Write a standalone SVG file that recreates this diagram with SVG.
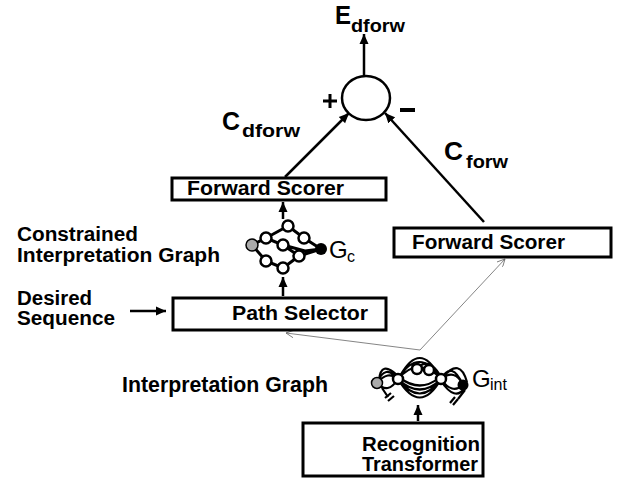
<svg xmlns="http://www.w3.org/2000/svg" width="621" height="481" viewBox="0 0 621 481">
<defs>
<style>
.box{fill:#fff;stroke:#000;stroke-width:3}
.t{font-family:"Liberation Sans",Arial,sans-serif;font-weight:bold;fill:#000}
.g{font-family:"Liberation Sans",Arial,sans-serif;fill:#000}
.c{stroke:#000;stroke-width:2.5;fill:none}
.thin{stroke:#666;stroke-width:0.8;fill:none}
.e{stroke:#000;stroke-width:3;fill:none}
.n{fill:#fff;stroke:#000;stroke-width:2.5}
.gray{fill:#aaa;stroke:#000;stroke-width:1.5}
.blk{fill:#000}
</style>
<marker id="ah" markerUnits="userSpaceOnUse" markerWidth="12" markerHeight="10" refX="10" refY="5" orient="auto">
<path d="M0,0.5 L10,5 L0,9.5 Z" fill="#000"/>
</marker>
<marker id="oh" markerUnits="userSpaceOnUse" markerWidth="10" markerHeight="8" refX="8" refY="4" orient="auto">
<path d="M0,0 L8,4 L0,8" fill="none" stroke="#666" stroke-width="0.8"/>
</marker>
</defs>

<g id="connectors">
<line class="c" x1="364" y1="75" x2="364" y2="34" marker-end="url(#ah)"/>
<line class="c" x1="285" y1="177" x2="349" y2="113" marker-end="url(#ah)"/>
<line class="c" x1="484" y1="222" x2="385" y2="113" marker-end="url(#ah)"/>
<line class="c" x1="283" y1="219" x2="283" y2="202" marker-end="url(#ah)"/>
<line class="c" x1="283" y1="296" x2="283" y2="277" marker-end="url(#ah)"/>
<line class="c" x1="130" y1="311" x2="166" y2="311" marker-end="url(#ah)"/>
<line class="c" x1="418" y1="421" x2="418" y2="405" marker-end="url(#ah)"/>
<line class="thin" x1="420" y1="350" x2="286" y2="333" marker-end="url(#oh)"/>
<line class="thin" x1="420" y1="350" x2="505" y2="259" marker-end="url(#oh)"/>
</g>

<g id="sum">
<ellipse cx="366" cy="98" rx="24" ry="22" fill="#fff" stroke="#000" stroke-width="2.5"/>
<path d="M323,101 H337 M330,94 V108" stroke="#000" stroke-width="3"/>
<rect x="400" y="108" width="15" height="4" fill="#000"/>
</g>

<g id="label-edforw">
<text class="t" x="335" y="24" font-size="26" textLength="16" lengthAdjust="spacingAndGlyphs">E</text>
<text class="t" x="351" y="32" font-size="18" textLength="54" lengthAdjust="spacingAndGlyphs">dforw</text>
</g>
<g id="label-cdforw">
<text class="t" x="222" y="130" font-size="25" textLength="18" lengthAdjust="spacingAndGlyphs">C</text>
<text class="t" x="242" y="137" font-size="18" textLength="58" lengthAdjust="spacingAndGlyphs">dforw</text>
</g>
<g id="label-cforw">
<text class="t" x="444" y="160" font-size="25" textLength="19" lengthAdjust="spacingAndGlyphs">C</text>
<text class="t" x="466" y="168" font-size="18" textLength="42" lengthAdjust="spacingAndGlyphs">forw</text>
</g>

<g id="forward-scorer-left">
<rect class="box" x="172" y="178" width="214" height="22"/>
<text class="t" x="187" y="195" font-size="20" textLength="157" lengthAdjust="spacingAndGlyphs">Forward  Scorer</text>
</g>

<g id="forward-scorer-right">
<rect class="box" x="394" y="228" width="217" height="29"/>
<text class="t" x="412" y="249" font-size="21" textLength="153" lengthAdjust="spacingAndGlyphs">Forward Scorer</text>
</g>

<g id="path-selector">
<rect class="box" x="173" y="298" width="213" height="32"/>
<text class="t" x="232" y="320" font-size="21" textLength="136" lengthAdjust="spacingAndGlyphs">Path Selector</text>
</g>

<g id="recognition-transformer">
<rect class="box" x="303" y="423" width="180" height="53"/>
<text class="t" x="362" y="451" font-size="20" textLength="118" lengthAdjust="spacingAndGlyphs">Recognition</text>
<text class="t" x="362" y="471" font-size="20" textLength="116" lengthAdjust="spacingAndGlyphs">Transformer</text>
</g>

<g id="label-constrained">
<text class="t" x="17" y="241" font-size="20" textLength="121" lengthAdjust="spacingAndGlyphs">Constrained</text>
<text class="t" x="17" y="262" font-size="20" textLength="203" lengthAdjust="spacingAndGlyphs">Interpretation Graph</text>
</g>
<g id="label-desired">
<text class="t" x="17" y="305" font-size="20" textLength="75" lengthAdjust="spacingAndGlyphs">Desired</text>
<text class="t" x="17" y="325" font-size="20" textLength="98" lengthAdjust="spacingAndGlyphs">Sequence</text>
</g>
<g id="label-interp">
<text class="t" x="122" y="392" font-size="22" textLength="206" lengthAdjust="spacingAndGlyphs">Interpretation Graph</text>
</g>

<g id="graph-gc">
<path class="e" d="M252,245 L266,238 L288,226 L304,238 L321,249 M266,238 L283,245 L299,256 L321,249 M252,245 L266,261 L283,268 L299,256 M283,245 L305,251 L321,249"/>
<circle class="gray" cx="252" cy="245" r="6"/>
<circle class="n" cx="266" cy="238" r="5.5"/>
<circle class="n" cx="288" cy="226" r="5.5"/>
<circle class="n" cx="304" cy="238" r="5.5"/>
<circle class="n" cx="283" cy="245" r="5.5"/>
<circle class="n" cx="299" cy="256" r="5.5"/>
<circle class="n" cx="283" cy="268" r="5.5"/>
<circle class="n" cx="266" cy="261" r="5.5"/>
<circle class="blk" cx="321" cy="249" r="6"/>
<text class="g" x="329" y="258" font-size="24">G</text>
<text class="g" x="347" y="262" font-size="16">c</text>
</g>

<g id="graph-gint">
<g stroke="#000" stroke-width="2.2" fill="none">
<path d="M377,383 Q385,363 398,379 M377,383 Q388,370 398,379 M377,383 Q388,395 398,379 M379,380 Q381,360 397,375"/>
<path d="M398,379 Q419,345 441,379 M398,379 Q419,355 441,379 M400,376 Q420,340 439,376 M402,374 Q410,358 417,369 M417,369 Q428,356 440,375"/>
<path d="M398,379 Q420,416 441,379 M398,379 Q420,408 441,379 M398,379 Q420,400 441,379 M400,378 Q420,393 439,378"/>
<path d="M441,379 Q452,360 463,385 M441,379 Q455,368 463,385 M441,379 Q452,395 463,385 M443,377 Q460,357 467,382 M441,381 Q455,402 465,388"/>
<path d="M382,388 L388,397 M465,390 L458,399"/>
<path d="M385,398 L391,393 M388,401 L394,396 M450,403 L455,397 M453,405 L458,399" stroke-width="2.2"/>
</g>
<circle class="gray" cx="377" cy="383" r="5.5"/>
<circle class="n" cx="398" cy="379" r="5"/>
<circle class="n" cx="417" cy="369" r="5"/>
<circle class="n" cx="429" cy="370" r="5"/>
<circle class="n" cx="441" cy="379" r="5"/>
<circle class="blk" cx="463" cy="385" r="5.5"/>
<text class="g" x="472" y="387" font-size="24">G</text>
<text class="g" x="490" y="390" font-size="16">int</text>
</g>
</svg>
